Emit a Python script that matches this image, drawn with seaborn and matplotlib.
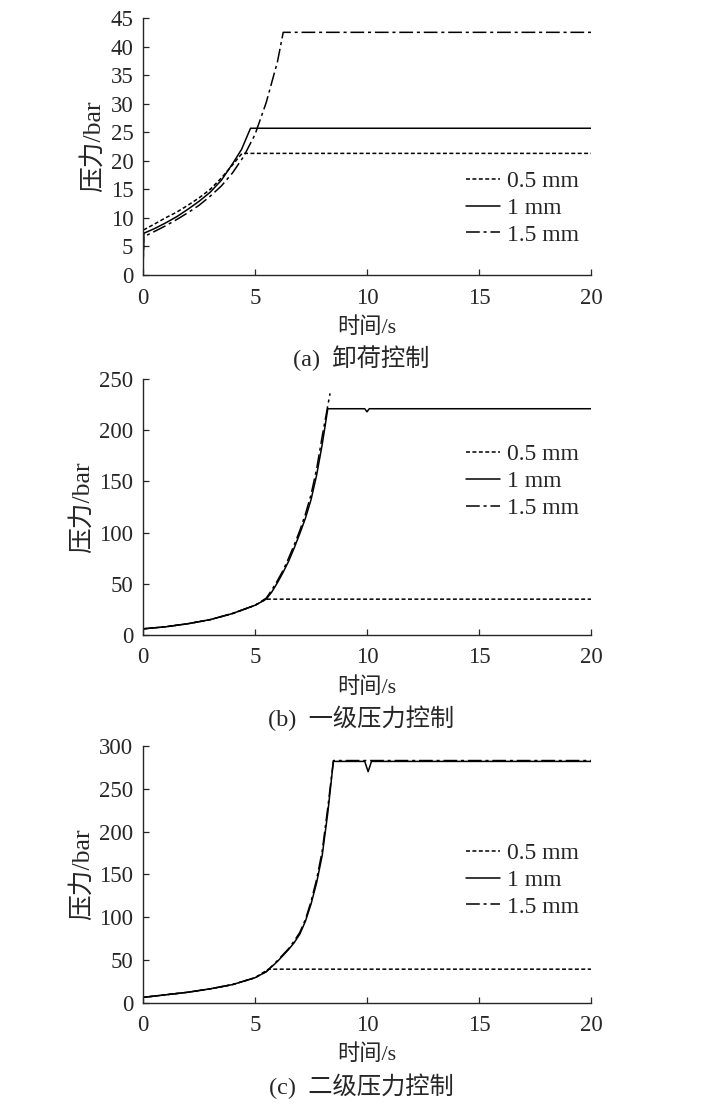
import numpy as np
import pandas as pd
import matplotlib
matplotlib.use("Agg")
import matplotlib.pyplot as plt
import seaborn as sns

sns.set_style("ticks")
plt.rcParams['font.family'] = ['Liberation Serif', 'Noto Sans CJK SC', 'DejaVu Sans']
plt.rcParams['axes.unicode_minus'] = False

labels = ["0.5 mm", "1 mm", "1.5 mm"]

# Panel (a) 卸荷控制
a_t_05 = [0, 0.03, 0.5, 1, 1.5, 2, 2.5, 3, 3.5, 4, 4.42, 20]
a_p_05 = [0, 7.9, 8.9, 10.0, 11.0, 12.2, 13.5, 15.0, 17.0, 19.3, 21.3, 21.3]
a_t_10 = [0, 0.03, 0.5, 1, 1.5, 2, 2.5, 3, 3.5, 4, 4.4, 4.8, 20]
a_p_10 = [0, 7.3, 8.1, 9.1, 10.2, 11.5, 12.9, 14.5, 16.6, 19.5, 22.0, 25.7, 25.7]
a_t_15 = [0, 0.03, 0.5, 1, 1.5, 2, 2.5, 3, 3.5, 4, 4.5, 5, 5.5, 6, 6.26, 20]
a_p_15 = [0, 6.7, 7.6, 8.6, 9.7, 10.9, 12.2, 13.8, 15.6, 17.9, 20.8, 24.6, 30.2, 37.3, 42.5, 42.5]

# Panel (b) 一级压力控制
b_t_05 = [0, 1, 2, 3, 4, 5, 5.5, 20]
b_p_05 = [6, 8, 11, 15, 21, 29, 35, 35]
b_t_10 = [0, 1, 2, 3, 4, 5, 5.5, 5.75, 6, 6.25, 6.5, 6.75, 7, 7.25, 7.5, 7.75, 8, 8.25,
          9.9, 10.0, 10.1, 20]
b_p_10 = [6, 8, 11, 15, 21, 29, 35, 42, 51, 61, 72, 85, 99, 114, 132, 156, 186, 221,
          221, 218, 221, 221]
b_t_15 = [0, 1, 2, 3, 4, 5, 5.5, 5.75, 6, 6.25, 6.5, 6.75, 7, 7.25, 7.5, 7.75, 8, 8.35]
b_p_15 = [6, 8, 11, 15, 21, 29, 36, 44, 53, 63, 75, 88, 102, 118, 137, 162, 194, 236]

# Panel (c) 二级压力控制
c_t_05 = [0, 1, 2, 3, 4, 5, 5.6, 20]
c_p_05 = [6, 9, 12, 16, 21, 29, 39, 39]
c_t_10 = [0, 1, 2, 3, 4, 5, 5.5, 6, 6.5, 6.75, 7, 7.25, 7.5, 7.75, 8, 8.25, 8.5,
          9.9, 10.05, 10.2, 20]
c_p_10 = [6, 9, 12, 16, 21, 29, 36, 48, 62, 70, 80, 95, 115, 140, 172, 222, 282,
          282, 270, 282, 282]
c_t_15 = [0, 1, 2, 3, 4, 5, 5.5, 6, 6.5, 6.75, 7, 7.25, 7.5, 7.75, 8, 8.25, 8.5, 20]
c_p_15 = [6, 9, 12, 16, 21, 29, 36, 49, 63, 72, 82, 97, 118, 144, 177, 228, 283, 283]

x_ticks = [0, 5, 10, 15, 20]
panels = [
    dict(series=[(a_t_05, a_p_05), (a_t_10, a_p_10), (a_t_15, a_p_15)],
         ylim=(0, 45), yticks=list(range(0, 46, 5)), caption="(a)  卸荷控制",
         rect=[0.1978, 0.7518, 0.6196, 0.2319], leg_y=0.26),
    dict(series=[(b_t_05, b_p_05), (b_t_10, b_p_10), (b_t_15, b_p_15)],
         ylim=(0, 250), yticks=list(range(0, 251, 50)), caption="(b)  一级压力控制",
         rect=[0.1978, 0.4269, 0.6196, 0.2310], leg_y=0.60),
    dict(series=[(c_t_05, c_p_05), (c_t_10, c_p_10), (c_t_15, c_p_15)],
         ylim=(0, 300), yticks=list(range(0, 301, 50)), caption="(c)  二级压力控制",
         rect=[0.1978, 0.0952, 0.6196, 0.2315], leg_y=0.477),
]

styles = [(0, (2.6, 1.6)), "-", (0, (9, 2.5, 2, 2.5))]

fig = plt.figure(figsize=(7.23, 11.08), dpi=100)
for p in panels:
    ax = fig.add_axes(p["rect"])
    for (t, v), lab, ls in zip(p["series"], labels, styles):
        df = pd.DataFrame({"t": t, "p": v})
        sns.lineplot(data=df, x="t", y="p", ax=ax, color="black", lw=1.1,
                     linestyle=ls, label=lab, sort=False, estimator=None)
    ax.set_xlim(0, 20)
    ax.set_ylim(*p["ylim"])
    ax.set_xticks(x_ticks)
    ax.set_yticks(p["yticks"])
    ax.tick_params(direction="in", length=4.5, width=0.9, labelsize=16.5)
    ax.tick_params(axis="x", pad=9)
    ax.tick_params(axis="y", pad=7)
    for s in ["top", "right"]:
        ax.spines[s].set_visible(False)
    for s in ["left", "bottom"]:
        ax.spines[s].set_linewidth(1.0)
    ax.set_xlabel("时间/s", fontsize=16, labelpad=6)
    ax.set_ylabel("压力/bar", fontsize=18.5, labelpad=4)
    ax.legend(loc="center left", bbox_to_anchor=(0.72, p["leg_y"]),
              frameon=False, fontsize=17, handlelength=1.45, handletextpad=0.3,
              labelspacing=0.22, borderaxespad=0, borderpad=0)
    ax.text(0.487, -0.325, p["caption"], transform=ax.transAxes, ha="center",
            va="center", fontsize=17.5)

fig.savefig("out.png", dpi=100, facecolor="white")
